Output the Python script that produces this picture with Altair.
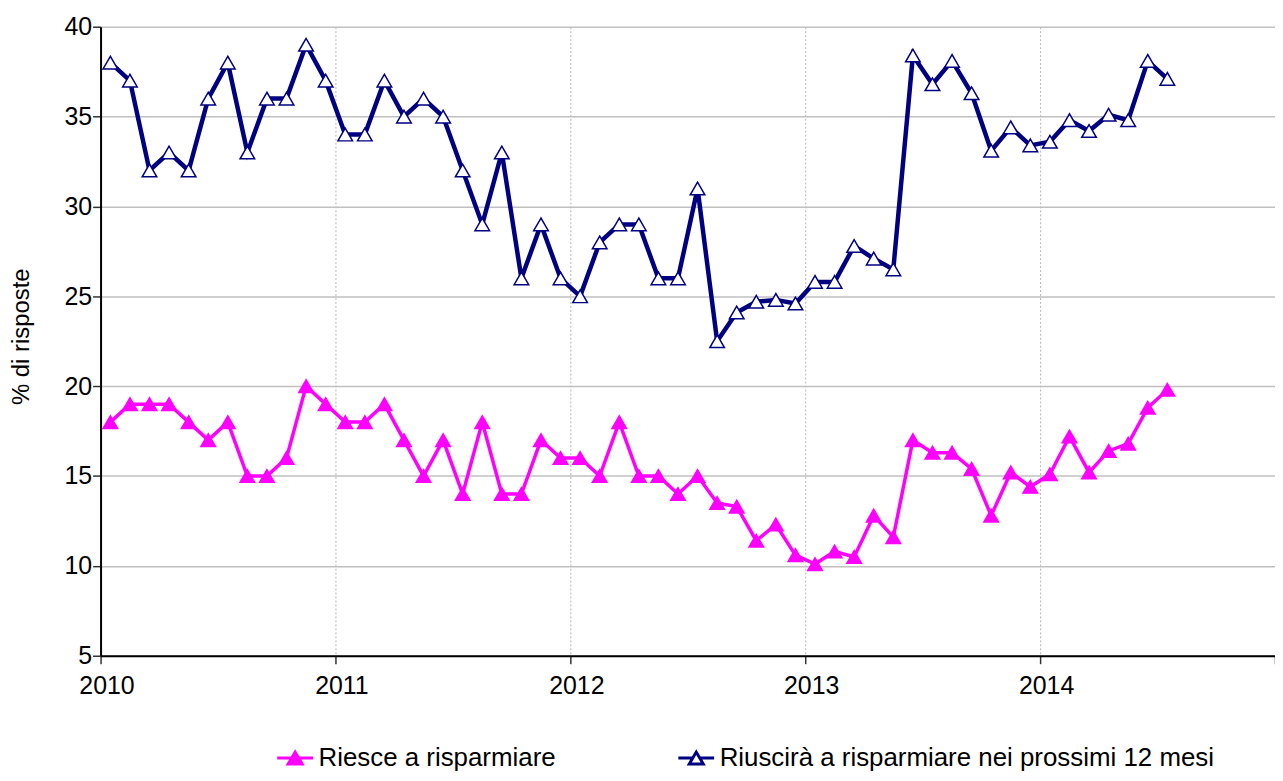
import altair as alt
import pandas as pd

# ---- data ----
mesi = [f"{a}-{m:02d}" for a in range(2010, 2015) for m in range(1, 13)][:55]

riesce = [18, 19, 19, 19, 18, 17, 18, 15, 15, 16, 20, 19,
          18, 18, 19, 17, 15, 17, 14, 18, 14, 14, 17, 16,
          16, 15, 18, 15, 15, 14, 15, 13.5, 13.3, 11.4, 12.3, 10.6,
          10.1, 10.8, 10.5, 12.8, 11.6, 17.0, 16.3, 16.3, 15.4, 12.8, 15.2, 14.4,
          15.1, 17.2, 15.2, 16.4, 16.8, 18.8, 19.8]

riuscira = [38, 37, 32, 33, 32, 36, 38, 33, 36, 36, 39, 37,
            34, 34, 37, 35, 36, 35, 32, 29, 33, 26, 29, 26,
            25, 28, 29, 29, 26, 26, 31, 22.5, 24.1, 24.7, 24.8, 24.6,
            25.8, 25.8, 27.8, 27.1, 26.5, 38.4, 36.8, 38.1, 36.3, 33.1, 34.4, 33.4,
            33.6, 34.8, 34.2, 35.1, 34.8, 38.1, 37.1]

serie_nomi = ["Riesce a risparmiare", "Riuscirà a risparmiare nei prossimi 12 mesi"]
colori = ["#FF00FF", "#000080"]
riempimenti = ["#FF00FF", "#FFFFFF"]
anni = [2010, 2011, 2012, 2013, 2014, 2015]
y_ticks = [5, 10, 15, 20, 25, 30, 35, 40]

rows = []
for i, mese in enumerate(mesi):
    a, m = mese.split("-")
    t = int(a) + (int(m) - 0.5) / 12
    rows.append({"t": t, "mese": mese, "valore": riesce[i], "serie": serie_nomi[0]})
    rows.append({"t": t, "mese": mese, "valore": riuscira[i], "serie": serie_nomi[1]})
df = pd.DataFrame(rows)

FONT = "Liberation Sans, Arial, sans-serif"
LEGEND_PATH = "M-1,0H-0.22M0.22,0H1M-0.39,0.33L0,-0.33L0.39,0.33Z"

x = alt.X(
    "t:Q",
    scale=alt.Scale(domain=[2010, 2015], nice=False, zero=False),
    axis=alt.Axis(
        values=anni, format="d",
        labelExpr="datum.value == 2015 ? '' : datum.label",
        title=None, labelOffset=6, labelPadding=10, labelFlush=False, labelOverlap=False,
        grid=True, gridDash=[2, 2], gridColor="#b4b4b4", gridWidth=1,
        tickSize=8,
    ),
)
y = alt.Y(
    "valore:Q",
    scale=alt.Scale(domain=[5, 40], nice=False, zero=False),
    axis=alt.Axis(
        values=y_ticks, title="% di risposte", labelPadding=1, labelFlush=False,
        grid=True, gridColor="#c0c0c0", gridWidth=1.5, tickSize=8,
        titleX=-67, titleY=311, titleFontSize=24, titleFontWeight="normal",
        titleFont=FONT, titleColor="black",
    ),
)

legend = alt.Legend(
    orient="none", legendX=176, legendY=715, direction="horizontal", title=None,
    labelFont=FONT, labelFontSize=26, labelColor="black", symbolSize=1296,
    symbolType=LEGEND_PATH, symbolStrokeWidth=3,
    columnPadding=116, labelOffset=4, labelLimit=1000,
)

stroke_enc = alt.Stroke("serie:N", scale=alt.Scale(domain=serie_nomi, range=colori), legend=legend)

line_pink = alt.Chart(df).transform_filter(
    alt.datum.serie == serie_nomi[0]
).mark_line(strokeWidth=3.5).encode(x=x, y=y, stroke=stroke_enc)

line_navy = alt.Chart(df).transform_filter(
    alt.datum.serie == serie_nomi[1]
).mark_line(strokeWidth=4.5).encode(x=x, y=y, stroke=stroke_enc)

points = alt.Chart(df).mark_point(
    shape="triangle-up", size=215, filled=True, opacity=1, strokeWidth=1.5
).encode(
    x=x, y=y,
    stroke=stroke_enc,
    fill=alt.Fill("serie:N", scale=alt.Scale(domain=serie_nomi, range=riempimenti), legend=legend),
)

chart = (
    alt.layer(line_pink, line_navy, points)
    .properties(
        width=1180, height=632,
        autosize=alt.AutoSizeParams(type="none"),
        padding={"left": 93, "top": 17, "right": 0, "bottom": 116},
    )
    .configure_view(stroke=None)
    .configure_axis(
        labelFont=FONT, labelFontSize=25, labelColor="black",
        domainColor="black", domainWidth=2,
        tickColor="#333333", tickWidth=1.5,
    )
)

chart.save("out.html", embed_options={"renderer": "svg", "actions": False})
